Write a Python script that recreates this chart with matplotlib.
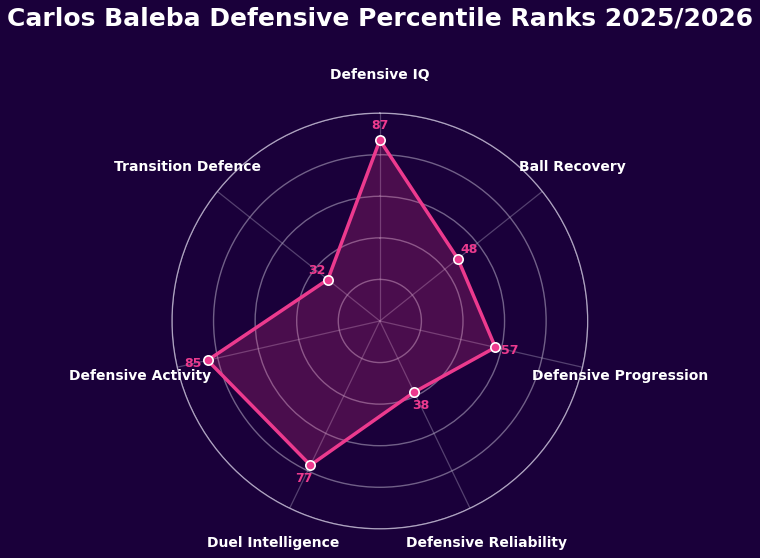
import numpy as np
import matplotlib.pyplot as plt

categories = ['Defensive IQ', 'Ball Recovery', 'Defensive Progression', 'Defensive Reliability',
              'Duel Intelligence', 'Defensive Activity', 'Transition Defence']
values = [87, 48, 57, 38, 77, 85, 32]

bg = '#1a003a'
pink = '#ec3a8e'

n = len(categories)
angles = np.linspace(0, 2 * np.pi, n, endpoint=False)

fig = plt.figure(figsize=(7.6, 5.58), dpi=100, facecolor=bg)
ax = fig.add_axes([0.2263, 0.052, 0.547, 0.7455], projection='polar', facecolor=bg)
ax.set_theta_offset(np.pi / 2)
ax.set_theta_direction(-1)
ax.set_ylim(0, 100)

vals = values + values[:1]
ang = list(angles) + [angles[0]]
ax.fill(ang, vals, color=pink, alpha=0.23, zorder=2)
ax.plot(ang, vals, color=pink, linewidth=2.5, zorder=3)
ax.scatter(angles, values, s=45, color=pink, edgecolors='white', linewidths=1.2, zorder=4)

for a, v in zip(angles, values):
    ax.text(a, v + 7, str(v), color=pink, fontsize=9, fontweight='bold',
            ha='center', va='center', zorder=5)

for a, c in zip(angles, categories):
    ax.text(a, 118.5, c, color='white', fontsize=10, fontweight='bold',
            ha='center', va='center', clip_on=False)

ax.set_xticks(angles)
ax.set_xticklabels([])
ax.set_yticks([20, 40, 60, 80, 100])
ax.set_yticklabels([])
ax.xaxis.grid(True, color='#9a8fb0', alpha=0.45, linewidth=0.9)
ax.yaxis.grid(True, color='#b8afc8', alpha=0.55, linewidth=1.0)
ax.spines['polar'].set_color('#c8c0d8')
ax.spines['polar'].set_linewidth(0.9)
ax.spines['polar'].set_alpha(0.8)

fig.suptitle('Carlos Baleba Defensive Percentile Ranks 2025/2026', color='white',
             fontsize=18, fontweight='bold', y=0.988)

fig.savefig('out.png', dpi=100, facecolor=bg)
